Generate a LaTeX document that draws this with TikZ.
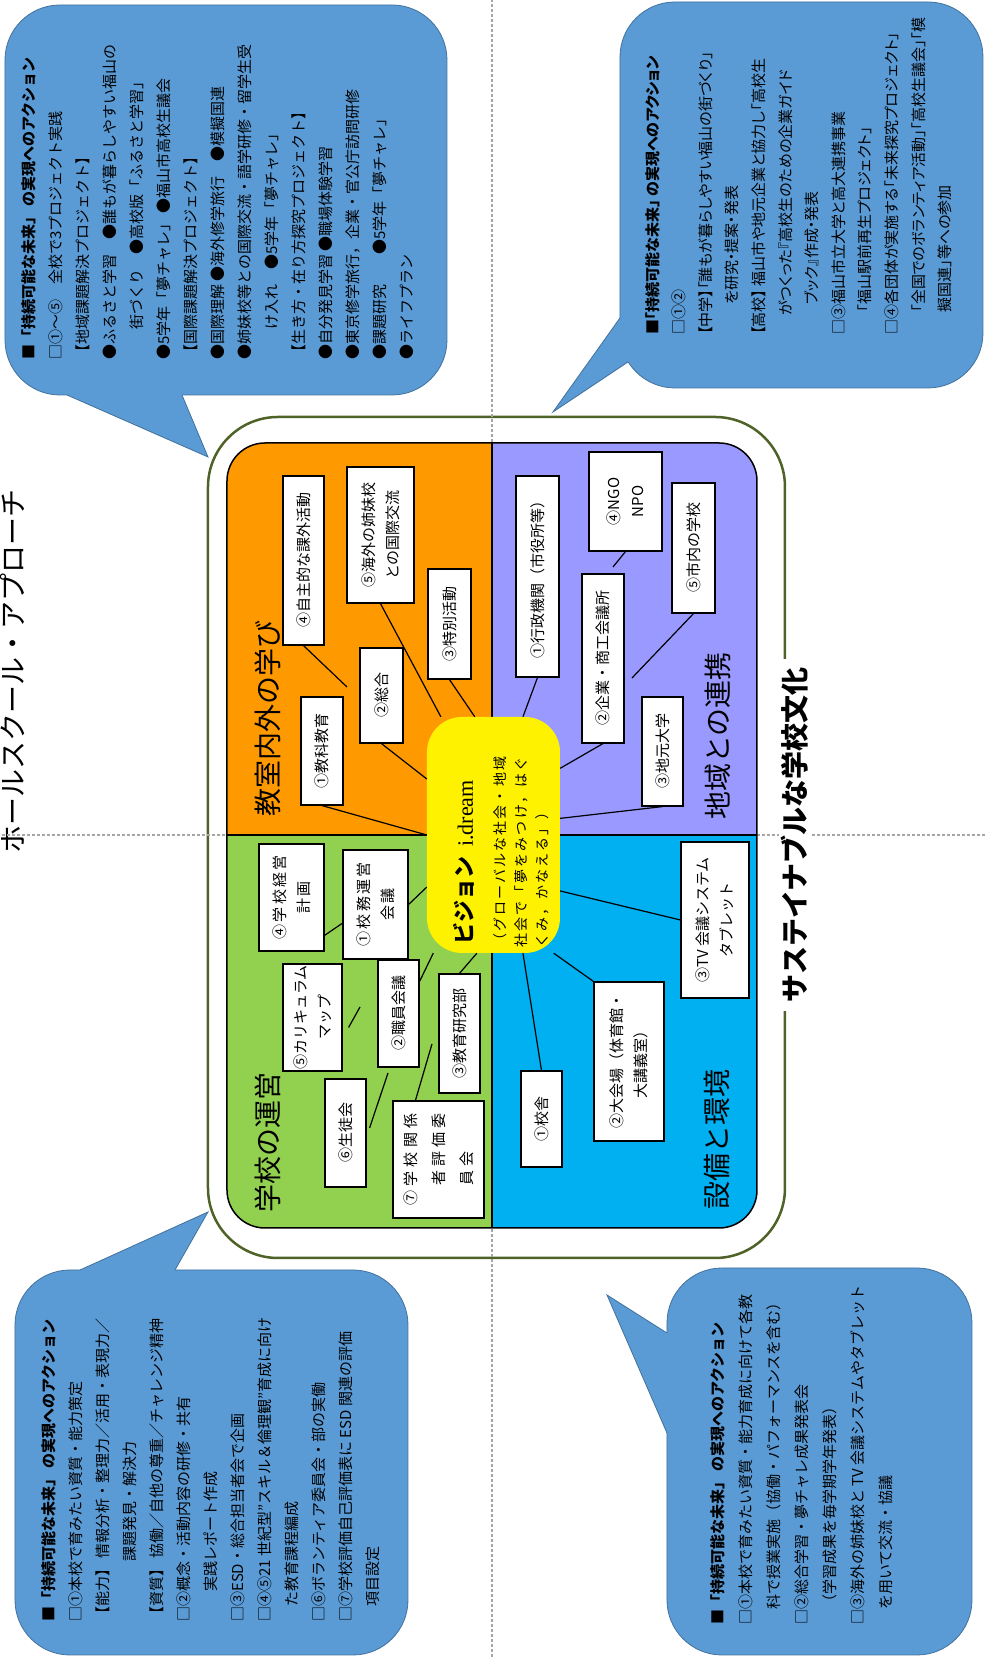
\documentclass[tikz,border=0pt]{standalone}
\usepackage{fontspec}
\setmainfont{Noto Sans CJK JP}
\newfontfamily\dreamfont{Liberation Serif}
\newfontfamily\spacedfont{Noto Sans CJK JP}[LetterSpace=15]
\newfontfamily\propfont{Noto Sans CJK JP}[RawFeature=+palt]
\usetikzlibrary{calc}

\definecolor{framegreen}{HTML}{4F6228}
\definecolor{bubbleblue}{HTML}{5B9BD5}
\definecolor{bubbleline}{HTML}{41719C}
\definecolor{unei}{HTML}{92D050}
\definecolor{manabi}{HTML}{FF9900}
\definecolor{renkei}{HTML}{9999FF}
\definecolor{setsubi}{HTML}{00B0F0}
\definecolor{guidegray}{HTML}{A6A6A6}

\begin{document}
\begin{tikzpicture}[x=1pt,y=1pt,rotate=90,transform shape,
    item/.style={draw,fill=white,line width=1.2pt,inner sep=0pt,align=center,
        font=\fontsize{15}{24}\selectfont},
    spaced/.style={font=\spacedfont\fontsize{15}{24}\selectfont},
    link/.style={line width=1.2pt},
    area/.style={anchor=west,inner sep=0pt,font=\fontsize{28}{30}\selectfont},
    action/.style={anchor=north west,inner sep=0pt,align=left,
        font=\fontsize{15}{27}\selectfont},
    bubble/.style={fill=bubbleblue,draw=bubbleline,line width=0.8pt,rounded corners=55pt},
    guide/.style={guidegray,line width=2pt,dash pattern=on 2.5pt off 2.5pt}]
\useasboundingbox (0,0) rectangle (1657,985);

\node[anchor=south,inner sep=0pt,font=\fontsize{28}{30}\selectfont] (title) at (985,960)
    {ホールスクール・アプローチ};

% frame and quarters
\draw[framegreen,line width=2.5pt,fill=white,rounded corners=70pt] (399,200) rectangle (1240,777);
\draw[guide] (0,493)--(1657,493);
\draw[guide] (822,0)--(822,985);

\begin{scope}
\clip[rounded corners=38pt] (429,228) rectangle (1214,758);
\fill[unei] (429,493) rectangle (822,758);
\fill[manabi] (822,493) rectangle (1214,758);
\fill[setsubi] (429,228) rectangle (822,493);
\fill[renkei] (822,228) rectangle (1214,493);
\end{scope}
\draw[line width=1.5pt,rounded corners=38pt] (429,228) rectangle (1214,758);
\draw[line width=1.5pt] (429,493)--(1214,493) (822,228)--(822,758);

\node[fill=white,inner xsep=9pt,inner ysep=2pt,font=\bfseries\fontsize{28}{30}\selectfont] (bunka) at (822,190) {サステイナブルな学校文化};

\node[area] (uneilabel) at (444,717) {学校の運営};
\node[area] (manabilabel) at (840,717) {教室内外の学び};
\node[area] (setsubilabel) at (447,268) {設備と環境};
\node[area] (renkeilabel) at (837,267) {地域との連携};

% vision
\node[fill=yellow,rounded corners=35pt,minimum width=236pt,minimum height=133pt,inner sep=0pt] (vision) at (822,491.5) {};
\node[anchor=base west,inner sep=0pt,font=\bfseries\fontsize{22}{24}\selectfont] (visiontitle) at (712,512)
    {ビジョン\hspace{10pt}{\dreamfont\mdseries i.dream}};
\node[anchor=north west,inner sep=0pt,align=left,font=\spacedfont\fontsize{14}{21}\selectfont] (visiontext) at (709,492)
    {（グローバルな社会・地域\\社会で「夢をみつけ，はぐ\\くみ，かなえる」）};

% school management
\node[item,spaced,minimum width=107pt,minimum height=65pt] (keiei) at (759.5,693.5) {④学校経営\\計画};
\node[item,spaced,minimum width=109pt,minimum height=65pt] (komu) at (752.5,609.5) {①校務運営\\会議};
\node[item,minimum width=107pt,minimum height=59pt] (curri) at (639.5,672.5) {⑤カリキュラム\\マップ};
\node[item,minimum width=107pt,minimum height=41pt] (shokuin) at (643.5,586.5) {②職員会議};
\node[item,minimum width=119pt,minimum height=41pt] (kenkyu) at (623.5,525.5) {③教育研究部};
\node[item,minimum width=108pt,minimum height=41pt] (seito) at (524,639.5) {⑥生徒会};
\node[item,minimum width=117pt,minimum height=91pt,font=\fontsize{15}{28}\selectfont] (hyoka) at (497.5,546.5)
    {\makebox[92pt]{⑦\hfill 学\hfill 校\hfill 関\hfill 係}\\
     \makebox[92pt]{\hspace{20pt}者\hfill 評\hfill 価\hfill 委}\\
     \makebox[92pt][l]{\hspace{20pt}員\hspace{4pt}会}};

% learning
\node[item,minimum width=169pt,minimum height=41pt] (jishu) at (1096.5,681.5) {④自主的な課外活動};
\node[item,minimum width=136pt,minimum height=67pt] (kaigai) at (1122,604.5) {⑤海外の姉妹校\\との国際交流};
\node[item,minimum width=110pt,minimum height=43pt] (tokubetsu) at (1033,535.5) {③特別活動};
\node[item,minimum width=95pt,minimum height=43pt] (sogo) at (961.5,603.5) {②総合};
\node[item,minimum width=108pt,minimum height=42pt] (kyoka) at (906,663) {①教科教育};

% community
\node[item,minimum width=201pt,minimum height=43pt] (gyosei) at (1080.5,447.5) {①行政機関（市役所等）};
\node[item,minimum width=99pt,minimum height=73pt] (ngo) at (1155.5,359.5) {④NGO\\NPO};
\node[item,minimum width=130pt,minimum height=43pt] (shinai) at (1109,291.5) {⑤市内の学校};
\node[item,minimum width=169pt,minimum height=42pt] (kigyo) at (998.5,382) {②企業・商工会議所};
\node[item,minimum width=109pt,minimum height=41pt] (daigaku) at (905.5,322.5) {③地元大学};

% facilities
\node[item,minimum width=156pt,minimum height=68pt] (tv) at (737,270) {③TV 会議システム\\タブレット};
\node[item,minimum width=159pt,minimum height=70pt] (daikaijo) at (595.5,356) {②大会場（体育館・\\大講義室）};
\node[item,minimum width=96pt,minimum height=41pt] (kosha) at (538,443.5) {①校舎};

\coordinate (jishutip) at (970,638);
\coordinate (ngotip) at (1090,372);
\coordinate (shinaitip) at (979,353);
\coordinate (curritip) at (650,625);
\coordinate (seitotip) at (584,597);
\coordinate (hyokatip) at (613,553);

\draw[link] (kyoka.west)--(vision.north);
\draw[link] (sogo.west)--(vision.50);
\draw[link] (jishu.west)--(jishutip);
\draw[link] (kaigai.west)--(vision.24);
\draw[link] (tokubetsu.west)--(vision.9);

\draw[link] (gyosei.west)--(vision.346);
\draw[link] (ngo.west)--(ngotip);
\draw[link] (shinai.west)--(shinaitip);
\draw[link] (kigyo.west)--(vision.315);
\draw[link] (daigaku.west)--(vision.284);

\draw[link] ($(keiei.south west)!0.15!(keiei.south east)$)--($(komu.north west)!0.33!(komu.north east)$);
\draw[link] (komu.south)--(vision.128);
\draw[link] ($(shokuin.south east)+(-22,0)$)--(vision.153);
\draw[link] (kenkyu.east)--(vision.172);
\draw[link] ($(curri.south)+(-10,-6)$)--(curritip);
\draw[link] ($(seito.south)+(5,-3)$)--(seitotip);
\draw[link] ($(hyoka.north east)!0.25!(hyoka.south east)$)--(hyokatip);

\draw[link] (tv.north)--(vision.230);
\draw[link] (daikaijo.north east)--(vision.207);
\draw[link] (kosha.east)--(vision.194);

% action bubbles
\draw[bubble] (1262,538) rectangle (1652,980);
\fill[bubbleblue] (1268,918)--(1262,918)--(1200,777)--(1262,803)--(1268,803)--cycle;
\draw[bubbleline,line width=0.8pt] (1262,918)--(1200,777)--(1262,803);
\node[action] (actionA) at (1297,964)
    {{\bfseries ■「持続可能な未来」 の実現へのアクション}\\
     □①～⑤　全校で3プロジェクト実践\\
     【地域課題解決プロジェクト】\\
     ●ふるさと学習　●誰もが暮らしやすい福山の\\
     \hspace*{2em}街づくり　●高校版「ふるさと学習」\\
     ●5学年「夢チャレ」 ●福山市高校生議会\\
     【国際課題解決プロジェクト】\\
     ●国際理解 ●海外修学旅行　●模擬国連\\
     ●姉妹校等との国際交流・語学研修・留学生受\\
     \hspace*{2em}け入れ　●5学年「夢チャレ」\\
     【生き方・在り方探究プロジェクト】\\
     ●自分発見学習 ●職場体験学習\\
     ●東京修学旅行，企業・官公庁訪問研修\\
     ●課題研究　　●5学年「夢チャレ」\\
     ●ライフプラン};

\draw[bubble] (1269,2) rectangle (1655,365);
\fill[bubbleblue] (1339,358)--(1339,365)--(1245,432)--(1295,357)--(1300,350)--cycle;
\draw[bubbleline,line width=0.8pt] (1339,365)--(1245,432)--(1295,357);
\node[action,font=\propfont\fontsize{15}{26.6}\selectfont] (actionB) at (1322,340)
    {{\bfseries ■「持続可能な未来」 の実現へのアクション}\\
     □①②\\
     【中学】「誰もが暮らしやすい福山の街づくり」\\
     \hspace*{2em}を研究・提案・発表\\
     【高校】 福山市や地元企業と協力し「高校生\\
     \hspace*{1.3em}がつくった『高校生のための企業ガイド\\
     \hspace*{2em}ブック』作成・発表\\
     □③福山市立大学と高大連携事業\\
     \hspace*{1.5em}「福山駅前再生プロジェクト」\\
     □④各団体が実施する「未来探究プロジェクト」\\
     \hspace*{1.5em}「全国でのボランティア活動」「高校生議会」「模\\
     \hspace*{1.5em}擬国連」等への参加};

\draw[bubble] (2,577) rectangle (387,970);
\fill[bubbleblue] (381,905)--(387,905)--(445,777)--(387,810)--(381,810)--cycle;
\draw[bubbleline,line width=0.8pt] (387,905)--(445,777)--(387,810);
\node[action] (actionC) at (35,944)
    {{\bfseries ■「持続可能な未来」 の実現へのアクション}\\
     □①本校で育みたい資質・能力策定\\
     【能力】 情報分析・整理力／活用・表現力／\\
     \hspace*{4em}課題発見・解決力\\
     【資質】 協働／自他の尊重／チャレンジ精神\\
     □②概念・活動内容の研修・共有\\
     \hspace*{2em}実践レポート作成\\
     □③ESD・総合担当者会で企画\\
     □④⑤21 世紀型”スキル＆倫理観”育成に向け\\
     \hspace*{1em}た教育課程編成\\
     □⑥ボランティア委員会・部の実働\\
     □⑦学校評価自己評価表に ESD 関連の評価\\
     \hspace*{1em}項目設定};

\draw[bubble] (2,13) rectangle (389,318);
\fill[bubbleblue] (224,312)--(224,318)--(362,378)--(324,318)--(324,312)--cycle;
\draw[bubbleline,line width=0.8pt] (224,318)--(362,378)--(324,318);
\node[action,font=\fontsize{15}{28}\selectfont] (actionD) at (32,275)
    {{\bfseries ■「持続可能な未来」 の実現へのアクション}\\
     □①本校で育みたい資質・能力育成に向けて各教\\
     \hspace*{1em}科で授業実施（協働・パフォーマンスを含む）\\
     □②総合学習・夢チャレ成果発表会\\
     \hspace*{1em}（学習成果を毎学期学年発表）\\
     □③海外の姉妹校と TV 会議システムやタブレット\\
     \hspace*{1em}を用いて交流・協議};
\end{tikzpicture}
\end{document}
